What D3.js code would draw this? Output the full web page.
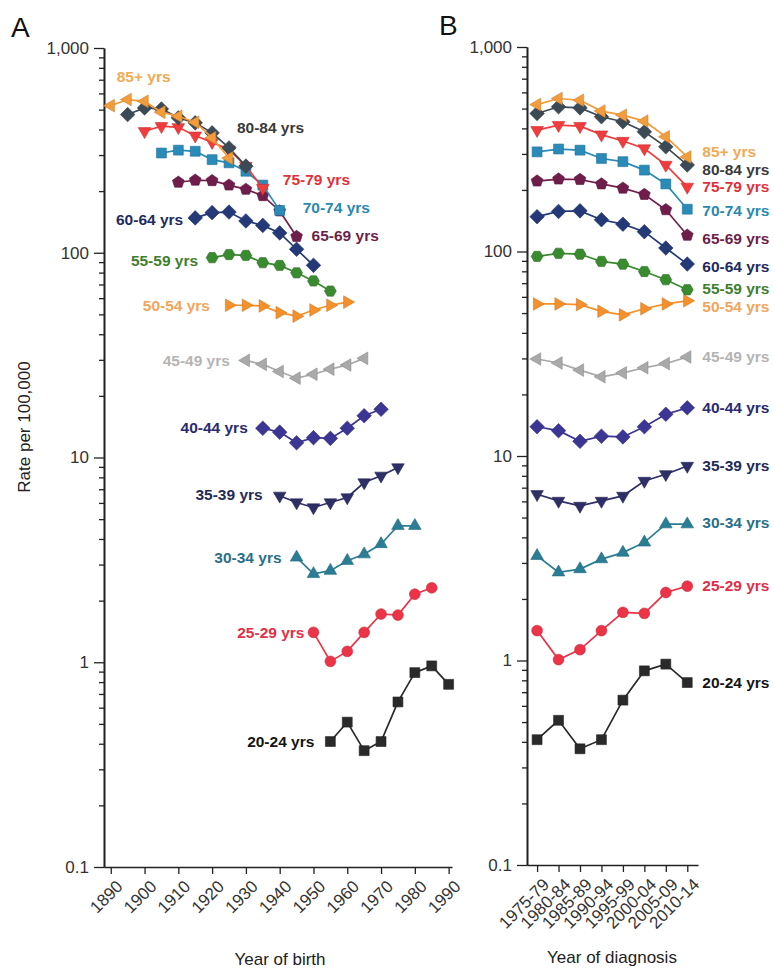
<!DOCTYPE html>
<html>
<head>
<meta charset="utf-8">
<script src="https://cdn.jsdelivr.net/npm/d3@7"></script>
<style>
  body { margin: 0; background: #fff; }
  text { font-family: "Liberation Sans", Arial, sans-serif; }
</style>
</head>
<body>
<div id="chart"></div>
<script>
// age groups, bottom to top
const ageGroups = ["20-24 yrs", "25-29 yrs", "30-34 yrs", "35-39 yrs", "40-44 yrs", "45-49 yrs", "50-54 yrs",
  "55-59 yrs", "60-64 yrs", "65-69 yrs", "70-74 yrs", "75-79 yrs", "80-84 yrs", "85+ yrs"];
const ageStart = [20, 25, 30, 35, 40, 45, 50, 55, 60, 65, 70, 75, 80, 85];
const periods = ["1975-79", "1980-84", "1985-89", "1990-94", "1995-99", "2000-04", "2005-09", "2010-14"];
const periodStart = [1975, 1980, 1985, 1990, 1995, 2000, 2005, 2010];
const birthTicks = [1890, 1900, 1910, 1920, 1930, 1940, 1950, 1960, 1970, 1980, 1990];
const rateTicks = [0.1, 1, 10, 100, 1000];

// rate per 100,000 by diagnosis period
const rate20 = [0.41, 0.51, 0.37, 0.41, 0.64, 0.89, 0.96, 0.78];
const rate25 = [1.40, 1.01, 1.13, 1.40, 1.72, 1.70, 2.15, 2.31];
const rate30 = [3.25, 2.70, 2.80, 3.13, 3.37, 3.78, 4.64, 4.64];
const rate35 = [6.5, 6.03, 5.7, 6.03, 6.38, 7.55, 8.14, 8.94];
const rate40 = [13.9, 13.3, 11.8, 12.5, 12.4, 13.9, 16.0, 17.2];
const rate45 = [29.8, 28.5, 26.3, 24.4, 25.5, 27.0, 28.3, 30.5];
const rate50 = [55.4, 55.4, 55.0, 51.0, 49.0, 52.5, 55.4, 57.4];
const rate55 = [94.6, 98, 97, 89.4, 86.7, 79.8, 72.8, 65];
const rate60 = [148, 157, 158, 143, 136, 125, 104, 86.8];
const rate65 = [221, 226, 225, 214, 204, 190, 160, 120];
const rate70 = [307, 317, 313, 285, 275, 250, 214, 161];
const rate75 = [392, 415, 410, 373, 347, 319, 265, 207];
const rate80 = [473, 510, 504, 456, 431, 385, 325, 265];
const rate85 = [523, 560, 549, 486, 464, 434, 364, 290];
const rates = [rate20, rate25, rate30, rate35, rate40, rate45, rate50, rate55, rate60, rate65, rate70, rate75, rate80, rate85];

const seriesColors = ["#2a2a2a", "#ec3348", "#2b7d96", "#2e2f66", "#3b3593", "#a9a9a9", "#f5902a",
  "#3a8a30", "#243a78", "#6f1d4b", "#2a8ab8", "#f03c3c", "#3c4a55", "#f39c3c"];
const labelColors = ["#151515", "#e03048", "#2a6e88", "#222a55", "#2a2a70", "#b4b4b4", "#f2a55a",
  "#3e7f2e", "#1e2a60", "#6e1f4a", "#2a88b0", "#e0303a", "#3a3a3a", "#f0aa55"];
const markerShapes = ["square", "circle", "triUp", "triDown", "diamond", "triLeft", "triRight",
  "hexagon", "diamond", "pentagon", "square", "triDown", "diamond", "triLeft"];

// label placement: anchored on first or last point of the cohort curve (panel A)
const labelA = [
  { at: "first", dx: -16, dy: 5, anchor: "end" },
  { at: "first", dx: -9, dy: 6, anchor: "end" },
  { at: "first", dx: -15, dy: 6, anchor: "end" },
  { at: "first", dx: -17, dy: 4, anchor: "end" },
  { at: "first", dx: -15, dy: 5, anchor: "end" },
  { at: "first", dx: -16, dy: 6, anchor: "end" },
  { at: "first", dx: -19, dy: 6, anchor: "end" },
  { at: "first", dx: -14, dy: 8, anchor: "end" },
  { at: "first", dx: -12, dy: 7, anchor: "end" },
  { at: "last", dx: 15, dy: 4, anchor: "start" },
  { at: "last", dx: 23, dy: 3, anchor: "start" },
  { at: "last", dx: 20, dy: -3, anchor: "start" },
  { at: "last", dx: -9, dy: -33, anchor: "start" },
  { at: "first", dx: 6, dy: -24, anchor: "start" }
];
// panel B labels sit right of the last point
const labelBdy = [5, 5, 4, 5, 5, 5, 11, 4, 8, 9, 7, 5, 10, 0];

const width = 774, height = 972;

const svg = d3.select("#chart").append("svg")
  .attr("width", width)
  .attr("height", height)
  .style("background", "#fff");

const xA = d3.scaleLinear().domain([1888, 1991]).range([104, 452]);
const yA = d3.scaleLog().domain([0.1, 1000]).range([867, 48]);
const xB = d3.scaleLinear().domain([-0.47, 7.5]).range([527, 698]);
const yB = d3.scaleLog().domain([0.1, 1000]).range([865, 47]);

function shapePath(type, r) {
  if (type === "circle") return d3.symbol(d3.symbolCircle, Math.PI * r * r)();
  var spec = {
    square: [4, 45, r * 1.3],
    diamond: [4, 0, r * 1.35],
    triUp: [3, 0, r * 1.35],
    triDown: [3, 180, r * 1.35],
    triLeft: [3, -90, r * 1.35],
    triRight: [3, 90, r * 1.35],
    pentagon: [5, 0, r * 1.15],
    hexagon: [6, 30, r * 1.1]
  }[type];
  var pts = d3.range(spec[0]).map(function (i) {
    var a = (-90 + spec[1] + i * 360 / spec[0]) * Math.PI / 180;
    return [spec[2] * Math.cos(a), spec[2] * Math.sin(a)];
  });
  return "M" + pts.map((p) => p[0].toFixed(2) + "," + p[1].toFixed(2)).join("L") + "Z";
}

function drawYAxis(x0, y) {
  var minor = [];
  [0.1, 1, 10, 100].forEach(function (d) {
    for (var k = 2; k <= 9; k++) minor.push(d * k);
  });
  var gMinor = svg.append("g")
    .attr("transform", "translate(" + x0 + ",0)")
    .call(d3.axisLeft(y).tickValues(minor).tickSize(5).tickSizeOuter(0).tickFormat(""));
  var gMajor = svg.append("g")
    .attr("transform", "translate(" + x0 + ",0)")
    .call(d3.axisLeft(y).tickValues(rateTicks).tickSize(10).tickSizeOuter(0).tickPadding(5)
      .tickFormat(d3.format(",")));
  [gMinor, gMajor].forEach(function (g) {
    g.select(".domain").attr("stroke", "#222").attr("stroke-width", 1.6);
    g.selectAll(".tick line").attr("stroke", "#222").attr("stroke-width", 1.3);
  });
  gMajor.selectAll("text").attr("font-size", 17).attr("fill", "#333");
}

function drawXAxis(y0, x, values, fmt, fontSize) {
  var g = svg.append("g")
    .attr("transform", "translate(0," + y0 + ")")
    .call(d3.axisBottom(x).tickValues(values).tickSize(7).tickSizeOuter(0).tickFormat(fmt));
  g.select(".domain").attr("stroke", "#222").attr("stroke-width", 1.6);
  g.selectAll(".tick line").attr("stroke", "#222").attr("stroke-width", 1.3);
  g.selectAll("text")
    .attr("font-size", fontSize)
    .attr("fill", "#333")
    .attr("x", 0)
    .attr("y", 0)
    .attr("dy", "0.71em")
    .attr("transform", "translate(4,12) rotate(-45)")
    .style("text-anchor", "end");
}

function drawSeries(xPos, y, labelPos) {
  rates.forEach(function (vals, gi) {
    var pts = vals.map((v, i) => [xPos(i, gi), y(v)]);
    var g = svg.append("g").attr("class", "series");
    g.append("path")
      .attr("d", d3.line()(pts))
      .attr("fill", "none")
      .attr("stroke", seriesColors[gi])
      .attr("stroke-width", 1.7);
    g.selectAll("path.marker")
      .data(pts)
      .enter()
      .append("path")
      .attr("class", "marker")
      .attr("transform", (p) => "translate(" + p[0] + "," + p[1] + ")")
      .attr("d", shapePath(markerShapes[gi], 5.4))
      .attr("fill", seriesColors[gi])
      .attr("stroke", d3.color(seriesColors[gi]).darker(0.5))
      .attr("stroke-width", 0.6);
    var lp = labelPos(gi, pts);
    g.append("text")
      .attr("x", lp.x)
      .attr("y", lp.y)
      .attr("text-anchor", lp.anchor)
      .attr("font-size", 15.5)
      .attr("font-weight", "bold")
      .attr("fill", labelColors[gi])
      .text(ageGroups[gi]);
  });
}

// Panel A: by birth cohort
drawYAxis(104, yA);
drawXAxis(867, xA, birthTicks, d3.format("d"), 17);
drawSeries(
  (i, gi) => xA(periodStart[i] - ageStart[gi]),
  yA,
  function (gi, pts) {
    var l = labelA[gi];
    var p = l.at === "first" ? pts[0] : pts[pts.length - 1];
    return { x: p[0] + l.dx, y: p[1] + l.dy, anchor: l.anchor };
  }
);

// Panel B: by diagnosis period
drawYAxis(527, yB);
drawXAxis(865, xB, d3.range(periods.length), (i) => periods[i], 17);
drawSeries(
  (i) => xB(i),
  yB,
  function (gi, pts) {
    var p = pts[pts.length - 1];
    return { x: p[0] + 15, y: p[1] + labelBdy[gi], anchor: "start" };
  }
);

// panel letters and titles
svg.append("text").attr("x", 11).attr("y", 37).attr("font-size", 28).attr("fill", "#111").text("A");
svg.append("text").attr("x", 439).attr("y", 35).attr("font-size", 28).attr("fill", "#111").text("B");

svg.append("text")
  .attr("transform", "translate(30,427) rotate(-90)")
  .attr("text-anchor", "middle")
  .attr("font-size", 17)
  .attr("fill", "#222")
  .text("Rate per 100,000");

svg.append("text")
  .attr("x", 280).attr("y", 965)
  .attr("text-anchor", "middle")
  .attr("font-size", 17)
  .attr("fill", "#222")
  .text("Year of birth");

svg.append("text")
  .attr("x", 612).attr("y", 963)
  .attr("text-anchor", "middle")
  .attr("font-size", 17)
  .attr("fill", "#222")
  .text("Year of diagnosis");
</script>
</body>
</html>
